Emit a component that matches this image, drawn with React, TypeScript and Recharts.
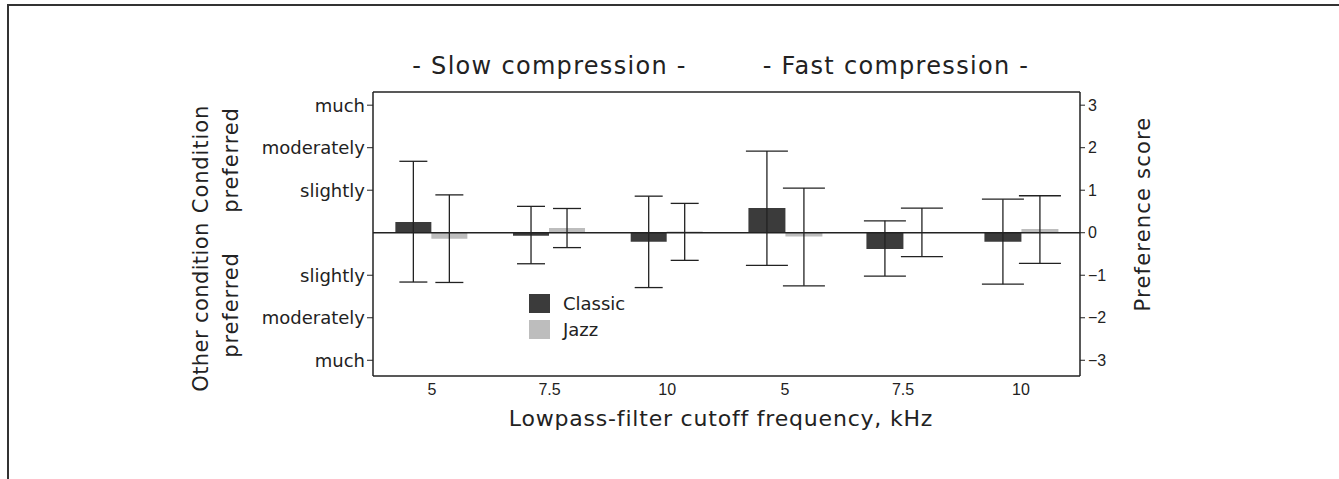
import React from "react";
import { ComposedChart, Bar, Line, XAxis, YAxis, ErrorBar, ReferenceLine } from "recharts";

// cutoff frequencies (kHz)
const freqs = ["5", "7.5", "10"];

// slow compression: bar value, lower and upper end of the error bar
const slowClassic = [0.25, -0.07, -0.21];
const slowClassicLow = [-1.16, -0.73, -1.29];
const slowClassicHigh = [1.68, 0.62, 0.86];
const slowJazz = [-0.14, 0.11, 0.03];
const slowJazzLow = [-1.17, -0.35, -0.65];
const slowJazzHigh = [0.89, 0.57, 0.69];

// fast compression
const fastClassic = [0.58, -0.38, -0.21];
const fastClassicLow = [-0.77, -1.02, -1.21];
const fastClassicHigh = [1.92, 0.28, 0.79];
const fastJazz = [-0.09, 0.01, 0.09];
const fastJazzLow = [-1.25, -0.56, -0.72];
const fastJazzHigh = [1.05, 0.58, 0.87];

const scoreTicks = [-3, -2, -1, 0, 1, 2, 3];
const wordTicks = [-3, -2, -1, 1, 2, 3];
const wordLabels: Record<string, string> = {
    "3": "much",
    "2": "moderately",
    "1": "slightly",
    "-1": "slightly",
    "-2": "moderately",
    "-3": "much",
};
const seriesNames = ["Classic", "Jazz"];
const domain: [number, number] = [-3.37, 3.31];

const DARK = "#3b3b3b";
const LIGHT = "#bdbdbd";
const INK = "#222";
const FONT = "'DejaVu Sans', sans-serif";
const NUM_FONT = "'Liberation Sans', Arial, sans-serif";

function buildRows(c: number[], cLo: number[], cHi: number[], j: number[], jLo: number[], jHi: number[]) {
    return freqs.map((f, i) => ({
        freq: f,
        classic: c[i],
        jazz: j[i],
        classicErr: [c[i] - cLo[i], cHi[i] - c[i]],
        jazzErr: [j[i] - jLo[i], jHi[i] - j[i]],
    }));
}

const slowRows = buildRows(slowClassic, slowClassicLow, slowClassicHigh, slowJazz, slowJazzLow, slowJazzHigh);
const fastRows = buildRows(fastClassic, fastClassicLow, fastClassicHigh, fastJazz, fastJazzLow, fastJazzHigh);

const numTick = { fontSize: 16, fill: INK, fontFamily: NUM_FONT };
const wordTick = { fontSize: 18, fill: INK, fontFamily: FONT };
const axisLine = { stroke: INK, strokeWidth: 1.5 };

const rotated = (left: number, top: number, size: number, spacing: number): React.CSSProperties => ({
    position: "absolute",
    left,
    top,
    transform: "translate(-50%,-50%) rotate(-90deg)",
    fontSize: size,
    letterSpacing: spacing,
    whiteSpace: "nowrap",
});

// tick-only frame axis (no labels)
function frameAxis(id: string, side: "left" | "right", mirror: boolean) {
    return (
        <YAxis
            yAxisId={id}
            orientation={side}
            mirror={mirror}
            type="number"
            domain={domain}
            allowDataOverflow
            ticks={wordTicks}
            interval={0}
            width={0}
            tick={false}
            tickSize={4}
            tickLine={{ stroke: INK }}
            axisLine={axisLine}
        />
    );
}

// invisible series so that a frame axis gets drawn
function helper(id: string) {
    return <Line yAxisId={id} dataKey="classic" stroke="none" dot={false} activeDot={false} legendType="none" isAnimationActive={false} />;
}

export default function App() {
    return (
        <div style={{ position: "absolute", left: 0, top: 0, width: 1339, height: 479, background: "#fff", fontFamily: FONT, color: INK, overflow: "hidden" }}>
            {/* page frame */}
            <div style={{ position: "absolute", left: 7, top: 4, right: -4, bottom: -4, borderLeft: "2px solid #333", borderTop: "2px solid #333" }} />

            {/* panel titles */}
            <div style={{ position: "absolute", left: 373, width: 353, top: 52, textAlign: "center", fontSize: 24, letterSpacing: 1.3 }}>
                - Slow compression -
            </div>
            <div style={{ position: "absolute", left: 726, width: 340, top: 52, textAlign: "center", fontSize: 24, letterSpacing: 1.3 }}>
                - Fast compression -
            </div>

            {/* left axis labels */}
            <div style={rotated(201, 159, 21, 0.9)}>Condition</div>
            <div style={rotated(231, 160, 21, 0.9)}>preferred</div>
            <div style={rotated(201, 307, 21, 0.4)}>Other condition</div>
            <div style={rotated(231, 305, 21, 0.9)}>preferred</div>

            {/* right axis label */}
            <div style={rotated(1143, 214, 21, 1.2)}>Preference score</div>

            {/* x axis title */}
            <div style={{ position: "absolute", left: 421, width: 600, top: 406, textAlign: "center", fontSize: 22, letterSpacing: 0.8 }}>
                Lowpass-filter cutoff frequency, kHz
            </div>

            {/* legend */}
            <div style={{ position: "absolute", left: 529, top: 290, fontSize: 18 }}>
                {seriesNames.map((n, i) => (
                    <div key={n} style={{ display: "flex", alignItems: "center", height: 26 }}>
                        <span style={{ display: "inline-block", width: 21, height: 19, background: i === 0 ? DARK : LIGHT, marginRight: 13 }} />
                        {n}
                    </div>
                ))}
            </div>

            {/* slow compression panel */}
            <div style={{ position: "absolute", left: 0, top: 0 }}>
                <ComposedChart width={760} height={479} data={slowRows} margin={{ top: 92, right: 34, bottom: 73, left: 273 }} barCategoryGap="19%" barGap={0}>
                    <XAxis dataKey="freq" tick={numTick} tickLine={false} axisLine={axisLine} />
                    <YAxis
                        type="number"
                        domain={domain}
                        allowDataOverflow
                        ticks={wordTicks}
                        interval={0}
                        width={100}
                        tick={wordTick}
                        tickFormatter={(v) => wordLabels[String(v)] ?? ""}
                        tickSize={6}
                        tickLine={{ stroke: INK }}
                        axisLine={axisLine}
                    />
                    {frameAxis("m", "left", true)}
                    {frameAxis("r", "right", false)}
                    <Bar dataKey="classic" name="Classic" fill={DARK} isAnimationActive={false}>
                        <ErrorBar dataKey="classicErr" width={14} stroke={INK} strokeWidth={1.3} />
                    </Bar>
                    <Bar dataKey="jazz" name="Jazz" fill={LIGHT} isAnimationActive={false}>
                        <ErrorBar dataKey="jazzErr" width={14} stroke={INK} strokeWidth={1.3} />
                    </Bar>
                    {helper("m")}
                    {helper("r")}
                    <ReferenceLine y={0} stroke={INK} strokeWidth={1.5} />
                    <ReferenceLine y={domain[1]} stroke={INK} strokeWidth={1.5} />
                </ComposedChart>
            </div>

            {/* fast compression panel */}
            <div style={{ position: "absolute", left: 700, top: 0 }}>
                <ComposedChart width={639} height={479} data={fastRows} margin={{ top: 92, right: 199, bottom: 73, left: 26 }} barCategoryGap="19%" barGap={0}>
                    <XAxis dataKey="freq" tick={numTick} tickLine={false} axisLine={axisLine} />
                    {frameAxis("l", "left", false)}
                    {frameAxis("rm", "right", true)}
                    <YAxis
                        orientation="right"
                        type="number"
                        domain={domain}
                        allowDataOverflow
                        ticks={scoreTicks}
                        interval={0}
                        width={60}
                        tick={numTick}
                        tickFormatter={(v) => (v < 0 ? "\u2212" + Math.abs(v) : String(v))}
                        tickSize={5}
                        tickMargin={3}
                        tickLine={{ stroke: INK }}
                        axisLine={axisLine}
                    />
                    <Bar dataKey="classic" name="Classic" fill={DARK} isAnimationActive={false}>
                        <ErrorBar dataKey="classicErr" width={21} stroke={INK} strokeWidth={1.3} />
                    </Bar>
                    <Bar dataKey="jazz" name="Jazz" fill={LIGHT} isAnimationActive={false}>
                        <ErrorBar dataKey="jazzErr" width={21} stroke={INK} strokeWidth={1.3} />
                    </Bar>
                    {helper("l")}
                    {helper("rm")}
                    <ReferenceLine y={0} stroke={INK} strokeWidth={1.5} />
                    <ReferenceLine y={domain[1]} stroke={INK} strokeWidth={1.5} />
                </ComposedChart>
            </div>
        </div>
    );
}
